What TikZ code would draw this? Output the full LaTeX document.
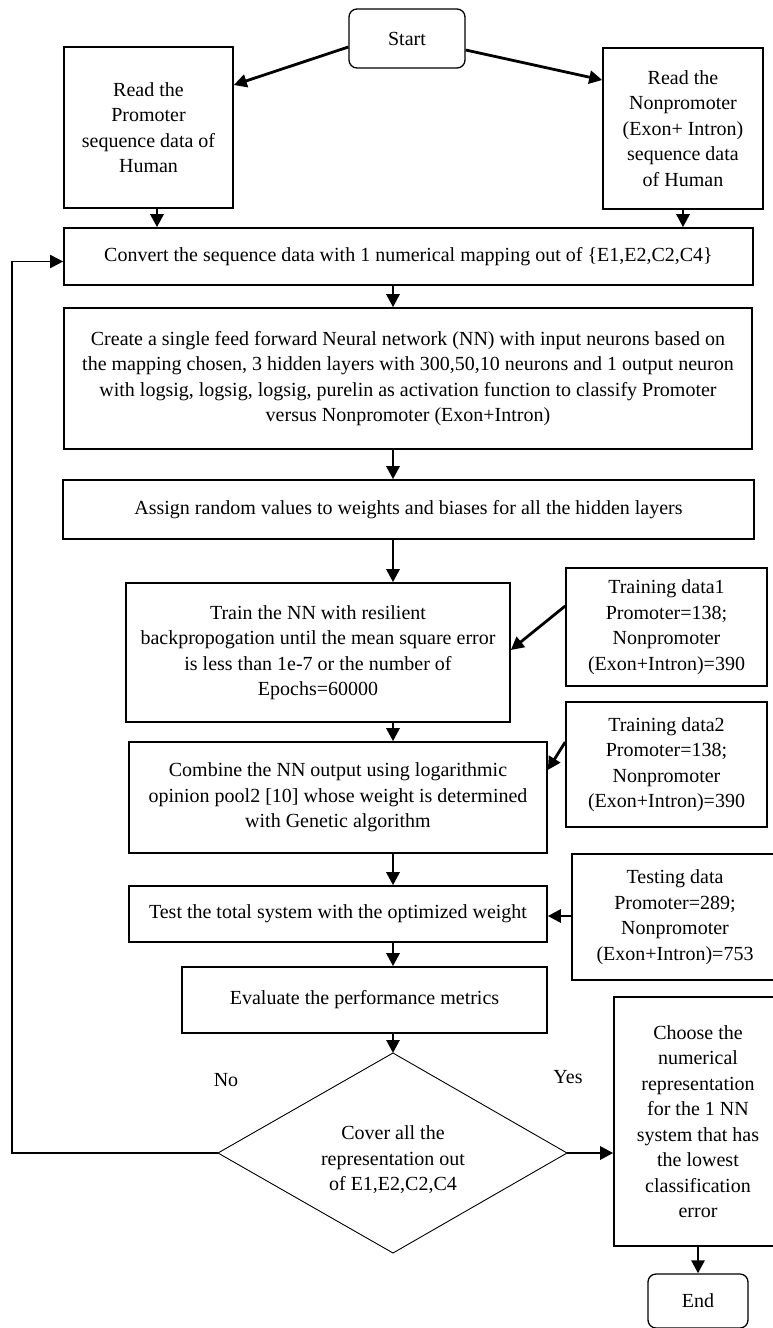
\documentclass[tikz,border=0pt]{standalone}
\usepackage{fontspec}
\setmainfont{Liberation Serif}
\usetikzlibrary{arrows.meta,calc}
\newcommand\flowfont{\fontsize{20}{25.5}\selectfont}

\begin{document}
\begin{tikzpicture}[x=1pt,y=-1pt,
  box/.style={draw,line width=1.6pt,inner sep=0pt,align=center,font=\flowfont},
  term/.style={box,line width=1.3pt,rounded corners=8pt},
  plain/.style={inner sep=0pt,align=center,font=\flowfont},
  flow/.style={line width=2.8pt,-{Triangle[length=13pt,width=13pt]}},
  loopline/.style={line width=1.8pt,-{Triangle[length=13pt,width=13pt]}}]

\useasboundingbox[fill=white] (0,0) rectangle (773,1328);

% terminals
\node[term,minimum width=116pt,minimum height=59pt] (start) at (407,38.5) {Start};
\node[term,minimum width=100pt,minimum height=54pt] (end) at (698,1301) {End};

% data input boxes
\node[box,minimum width=169pt,minimum height=161pt] (readP) at (148.5,127.5)
  {Read the\\Promoter\\sequence data of\\Human};
\node[box,minimum width=160pt,minimum height=161pt] (readN) at (683,128.5)
  {Read the\\Nonpromoter\\(Exon+ Intron)\\sequence data\\of Human};

% main process column
\node[box,minimum width=689pt,minimum height=57pt] (convert) at (408.5,256.5)
  {Convert the sequence data with 1 numerical mapping out of \{E1,E2,C2,C4\}};
\node[box,minimum width=688pt,minimum height=141pt] (create) at (408,378.5)
  {Create a single feed forward Neural network (NN) with input neurons based on\\
   the mapping chosen, 3 hidden layers with 300,50,10 neurons and 1 output neuron\\
   with logsig, logsig, logsig, purelin as activation function to classify Promoter\\
   versus Nonpromoter (Exon+Intron)};
\node[box,minimum width=691pt,minimum height=59pt] (assign) at (408.5,509.5)
  {Assign random values to weights and biases for all the hidden layers};
\node[box,minimum width=384pt,minimum height=139pt] (train) at (318,652.5)
  {Train the NN with resilient\\backpropogation until the mean square error\\
   is less than 1e-7 or the number of\\Epochs=60000};
\node[box,minimum width=418pt,minimum height=111pt] (combine) at (338,797.5)
  {Combine the NN output using logarithmic\\opinion pool2 [10] whose weight is determined\\
   with Genetic algorithm};
\node[box,minimum width=418pt,minimum height=56pt] (test) at (338,914)
  {Test the total system with the optimized weight};
\node[box,minimum width=365pt,minimum height=66pt] (evaluate) at (364.5,1000)
  {Evaluate the performance metrics};

% data sets on the right
\node[box,minimum width=201pt,minimum height=118pt] (td1) at (666.5,627)
  {Training data1\\Promoter=138;\\Nonpromoter\\(Exon+Intron)=390};
\node[box,minimum width=201pt,minimum height=125pt] (td2) at (666.5,764.5)
  {Training data2\\Promoter=138;\\Nonpromoter\\(Exon+Intron)=390};
\node[box,minimum width=206pt,minimum height=126pt] (tdt) at (675,917)
  {Testing data\\Promoter=289;\\Nonpromoter\\(Exon+Intron)=753};
\node[box,minimum width=168pt,minimum height=249pt] (choose) at (698,1121.5)
  {Choose the\\numerical\\representation\\for the 1 NN\\system that has\\the lowest\\classification\\error};

% decision
\coordinate (dT) at (393,1053);
\coordinate (dR) at (567,1153);
\coordinate (dB) at (393,1253);
\coordinate (dL) at (218,1153);
\draw[line width=0.9pt] (dT) -- (dR) -- (dB) -- (dL) -- cycle;
\node[plain] (dia) at (393,1160) {Cover all the\\representation out\\of E1,E2,C2,C4};
\node[plain] (nolabel) at (226,1080) {No};
\node[plain] (yeslabel) at (568,1077) {Yes};

% connectors
\coordinate (spine) at (393,0);
\coordinate (loopx) at (12,0);
\draw[flow] ([yshift=-8.5pt]start.west) -- ([yshift=42.5pt]readP.east);
\draw[flow] ([yshift=-11.5pt]start.east) -- ([yshift=48.5pt]readN.west);
\draw[flow] ([xshift=8.5pt]readP.south) -- ([xshift=8.5pt]readP.south |- convert.north);
\draw[flow] (readN.south) -- (readN.south |- convert.north);
\draw[flow] (convert.south -| spine) -- (create.north -| spine);
\draw[flow] (create.south -| spine) -- (assign.north -| spine);
\draw[flow] (assign.south -| spine) -- (train.north -| spine);
\draw[flow] (train.south -| spine) -- (combine.north -| spine);
\draw[flow] (combine.south -| spine) -- (test.north -| spine);
\draw[flow] (test.south -| spine) -- (evaluate.north -| spine);
\draw[flow] (evaluate.south -| spine) -- (dT);
\draw[flow] ([yshift=21pt]td1.west) -- ([yshift=2.5pt]train.east);
\draw[flow] ([yshift=22.5pt]td2.west) -- ([yshift=27.5pt]combine.east);
\draw[flow] ([yshift=1pt]tdt.west) -- ([yshift=1pt]tdt.west -| test.east);
\draw[flow] (dR) -- (dR -| choose.west);
\draw[loopline] (dL) -- (dL -| loopx) |- ([yshift=-5pt]convert.west);
\draw[flow] (choose.south) -- (choose.south |- end.north);
\end{tikzpicture}
\end{document}
